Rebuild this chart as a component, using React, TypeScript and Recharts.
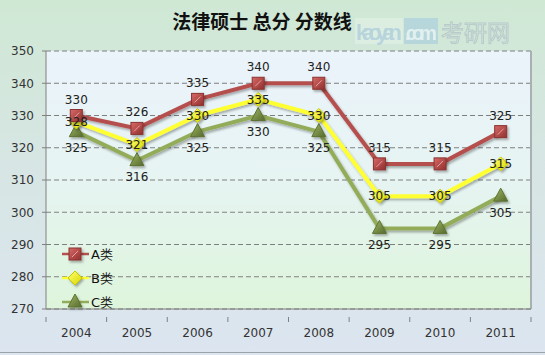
import React from "react";
import { LineChart, Line, XAxis, YAxis, CartesianGrid, LabelList, ReferenceLine, Customized } from "recharts";

const years = ["2004", "2005", "2006", "2007", "2008", "2009", "2010", "2011"];
const seriesA = [330, 326, 335, 340, 340, 315, 315, 325];
const seriesB = [328, 321, 330, 335, 330, 305, 305, 315];
const seriesC = [325, 316, 325, 330, 325, 295, 295, 305];
const yTicks = [270, 280, 290, 300, 310, 320, 330, 340, 350];
const title = "法律硕士 总分 分数线";

const data = years.map((y, i) => ({ pos: i + 0.5, year: y, A: seriesA[i], B: seriesB[i], C: seriesC[i] }));
const xTicks: number[] = [];
for (let i = 0; i <= years.length; i++) {
  xTicks.push(i);
  if (i < years.length) xTicks.push(i + 0.5);
}

const FONT = "'DejaVu Sans', Verdana, sans-serif";

const XTick = (props: any) => {
  const { x, y, payload } = props;
  const v = payload.value as number;
  if (Number.isInteger(v)) {
    return <line x1={x} y1={y} x2={x} y2={y + 5} stroke="#808080" strokeWidth={1} />;
  }
  return (
    <text x={x} y={y + 20} textAnchor="middle" fontSize={12} fontFamily={FONT} fill="#333">
      {years[Math.floor(v)]}
    </text>
  );
};

const Square = (props: any) => {
  const { cx, cy } = props;
  if (cx == null || cy == null) return null;
  return (
    <g>
      <rect x={cx - 6} y={cy - 6} width={12} height={12} fill="url(#gA)" stroke="#8a3331" strokeWidth={1} filter="url(#sh)" />
      <line x1={cx - 3} y1={cy + 3} x2={cx + 3} y2={cy - 3} stroke="#e8a0a0" strokeWidth={1} />
    </g>
  );
};
const Diamond = (props: any) => {
  const { cx, cy } = props;
  if (cx == null || cy == null) return null;
  return (
    <polygon points={`${cx},${cy - 7} ${cx + 7},${cy} ${cx},${cy + 7} ${cx - 7},${cy}`} fill="url(#gB)" stroke="#c8c800" strokeWidth={1} filter="url(#sh)" />
  );
};
const Triangle = (props: any) => {
  const { cx, cy } = props;
  if (cx == null || cy == null) return null;
  return (
    <polygon points={`${cx},${cy - 8} ${cx + 7},${cy + 5} ${cx - 7},${cy + 5}`} fill="url(#gC)" stroke="#5d7231" strokeWidth={1} filter="url(#sh)" />
  );
};

const legendItems = [
  { name: "A类", color: "#b5504e", M: Square },
  { name: "B类", color: "#ffff33", M: Diamond },
  { name: "C类", color: "#93ac5a", M: Triangle },
];

const LegendBox = () => (
  <g>
    {legendItems.map((it, i) => {
      const y = 254 + i * 24;
      const M = it.M;
      return (
        <g key={it.name}>
          <line x1={62} y1={y} x2={89} y2={y} stroke={it.color} strokeWidth={2.5} />
          <M cx={75} cy={y} />
          <text x={91} y={y + 5} fontSize={13} fontFamily={FONT} fill="#111">{it.name}</text>
        </g>
      );
    })}
  </g>
);

const Watermark = () => (
  <g opacity={0.8}>
    <rect x={355} y={18} width={48} height={26} fill="#ffffff" opacity={0.3} />
    <text x={356} y={40} fontSize={22} fontWeight="bold" fontFamily="'Liberation Sans Narrow', 'Liberation Sans', sans-serif" fill="#b2d0de" textLength={46}>kaoyan</text>
    <rect x={404} y={18} width={34} height={26} fill="#a6cbdd" opacity={0.75} />
    <text x={405} y={40} fontSize={20} fontWeight="bold" fontFamily="'Liberation Sans', sans-serif" fill="#e6f2f6" textLength={32}>.com</text>
    <text x={441} y={41} fontSize={23} fontFamily="'Noto Sans CJK SC', sans-serif" fill="none" stroke="#b4c3c9" strokeWidth={1}>考研网</text>
  </g>
);

const Title = () => (
  <text x={262} y={29} textAnchor="middle" fontSize={19} fontWeight="bold" fontFamily="'Noto Sans CJK SC', sans-serif" fill="#111">{title}</text>
);

const labelStyle = { fontSize: 12, fontFamily: FONT, fill: "#222" };

export default function App() {
  return (
    <div style={{ position: "fixed", left: 0, top: 0, width: 545, height: 355, background: "linear-gradient(to bottom, #cfe8d4 0%, #d6e6e2 40%, #dce5f0 100%)" }}>
      <div style={{ position: "absolute", left: 0, top: 352, width: 545, height: 1, background: "#9aa3a8" }} />
      <LineChart width={545} height={355} data={data} margin={{ top: 51, right: 14, bottom: 16, left: 0 }}>
        <defs>
          <linearGradient id="plotBg" x1="0" y1="0" x2="0" y2="1">
            <stop offset="0%" stopColor="#ebf3fb" />
            <stop offset="50%" stopColor="#e6f4f2" />
            <stop offset="100%" stopColor="#def5db" />
          </linearGradient>
          <linearGradient id="gA" x1="0" y1="0" x2="1" y2="1">
            <stop offset="0%" stopColor="#d86a68" />
            <stop offset="100%" stopColor="#8f2f2d" />
          </linearGradient>
          <linearGradient id="gB" x1="0" y1="0" x2="1" y2="1">
            <stop offset="0%" stopColor="#ffff70" />
            <stop offset="100%" stopColor="#d8d800" />
          </linearGradient>
          <linearGradient id="gC" x1="0" y1="0" x2="1" y2="1">
            <stop offset="0%" stopColor="#9fb865" />
            <stop offset="100%" stopColor="#55692c" />
          </linearGradient>
          <filter id="sh" x="-50%" y="-50%" width="200%" height="200%">
            <feDropShadow dx={1.5} dy={2} stdDeviation={1.2} floodColor="#000" floodOpacity={0.3} />
          </filter>
        </defs>
        <CartesianGrid vertical={false} stroke="#7f7f7f" strokeDasharray="5 3" fill="url(#plotBg)" horizontalValues={yTicks} />
        <ReferenceLine x={8} stroke="#a9b0b4" strokeWidth={2} />
        <YAxis
          type="number"
          domain={[270, 350]}
          ticks={yTicks}
          width={46}
          interval={0}
          tickSize={4}
          tickMargin={8}
          stroke="#808080"
          tick={{ fontSize: 12, fontFamily: FONT, fill: "#333" }}
        />
        <XAxis
          dataKey="pos"
          type="number"
          domain={[0, 8]}
          ticks={xTicks}
          interval={0}
          tickLine={false}
          tick={<XTick />}
          height={30}
          stroke="#808080"
        />
        <Line dataKey="C" stroke="#93ac5a" strokeWidth={4} dot={<Triangle />} activeDot={false} isAnimationActive={false} style={{ filter: "url(#sh)" }}>
          <LabelList dataKey="C" position="bottom" offset={12} style={labelStyle} />
        </Line>
        <Line dataKey="B" stroke="#ffff33" strokeWidth={4} dot={<Diamond />} activeDot={false} isAnimationActive={false} style={{ filter: "url(#sh)" }}>
          <LabelList dataKey="B" position="center" style={labelStyle} />
        </Line>
        <Line dataKey="A" stroke="#b5504e" strokeWidth={4} dot={<Square />} activeDot={false} isAnimationActive={false} style={{ filter: "url(#sh)" }}>
          <LabelList dataKey="A" position="top" offset={12} style={labelStyle} />
        </Line>
        <Customized component={LegendBox} />
        <Customized component={Title} />
        <Customized component={Watermark} />
      </LineChart>
    </div>
  );
}
